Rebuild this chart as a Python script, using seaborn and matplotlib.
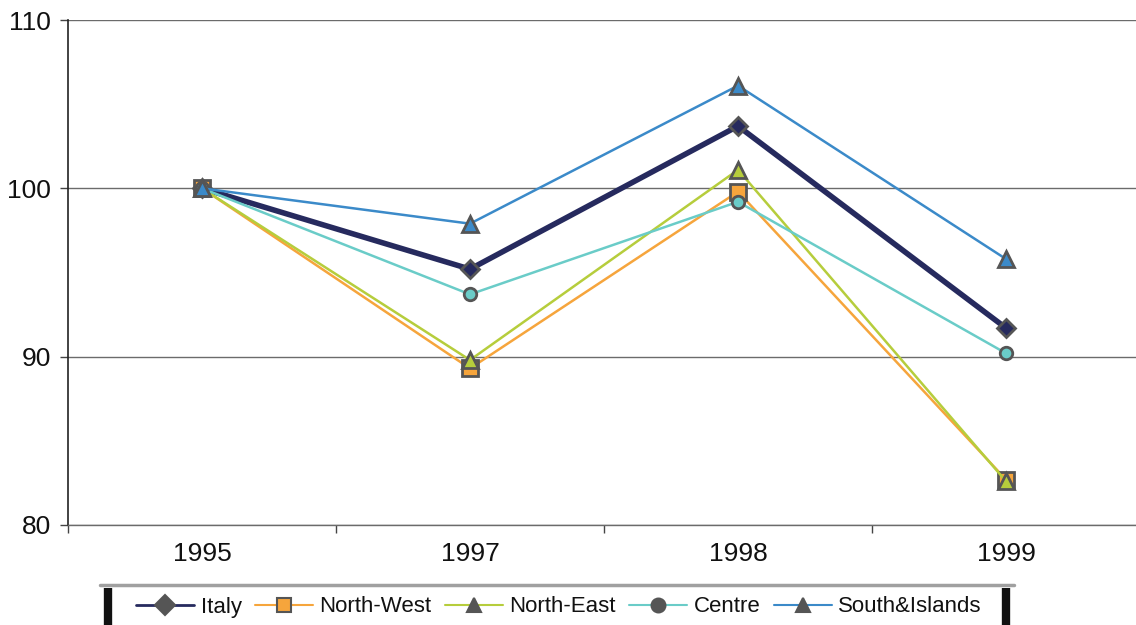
import matplotlib
matplotlib.use("Agg")
import matplotlib.pyplot as plt
from matplotlib.lines import Line2D
import seaborn as sns
import pandas as pd

years = ["1995", "1997", "1998", "1999"]
italy = [100.0, 95.2, 103.7, 91.7]
north_west = [100.0, 89.3, 99.8, 82.7]
north_east = [100.0, 89.8, 101.1, 82.6]
centre = [100.0, 93.7, 99.2, 90.2]
south_islands = [100.0, 97.9, 106.1, 95.8]

series = {
    "Italy": italy,
    "North-West": north_west,
    "North-East": north_east,
    "Centre": centre,
    "South&Islands": south_islands,
}
colors = {
    "Italy": "#262a5e",
    "North-West": "#f6a53c",
    "North-East": "#b6cd3c",
    "Centre": "#6accc8",
    "South&Islands": "#3b8ac9",
}
markers = {"Italy": "D", "North-West": "s", "North-East": "^",
           "Centre": "o", "South&Islands": "^"}
widths = {"Italy": 4.0, "North-West": 1.8, "North-East": 1.8,
          "Centre": 1.8, "South&Islands": 1.8}
msizes = {"Italy": 9, "North-West": 11, "North-East": 12,
          "Centre": 9, "South&Islands": 12}

rows = []
for name, vals in series.items():
    for i, (yr, v) in enumerate(zip(years, vals)):
        rows.append({"series": name, "pos": i, "year": yr, "value": v})
df = pd.DataFrame(rows)

sns.set_theme(style="white")
plt.rcParams["font.family"] = ["Liberation Sans", "DejaVu Sans"]

fig = plt.figure(figsize=(11.36, 6.25), dpi=100)
ax = fig.add_axes([68 / 1136, 100 / 625, 1072 / 1136, 505 / 625])

edge = "#555555"
for name in series:
    sub = df[df["series"] == name]
    sns.lineplot(data=sub, x="pos", y="value", ax=ax, color=colors[name],
                 linewidth=widths[name], marker=markers[name],
                 markersize=msizes[name], markeredgecolor=edge,
                 markeredgewidth=2, markerfacecolor=colors[name],
                 legend=False, zorder=3)

ax.set_xlim(-0.5, 3.5)
ax.set_ylim(80, 110)
ax.set_yticks([80, 90, 100, 110])
ax.set_xticks(range(len(years)))
ax.set_xticklabels(years)
ax.set_xticks([-0.5, 0.5, 1.5, 2.5], minor=True)
ax.set_xlabel("")
ax.set_ylabel("")
ax.yaxis.grid(True, color="#6b6b6b", linewidth=1.0, zorder=0)
ax.set_axisbelow(True)

for side in ["top", "right"]:
    ax.spines[side].set_visible(False)
ax.spines["left"].set_color("#222222")
ax.spines["left"].set_linewidth(1.2)
ax.spines["bottom"].set_color("#6b6b6b")
ax.spines["bottom"].set_linewidth(1.0)

ax.tick_params(axis="y", which="major", left=True, length=6, width=1,
               color="#444444", labelsize=19, pad=6, labelcolor="#111111")
ax.tick_params(axis="x", which="major", bottom=False, labelsize=19,
               pad=6, labelcolor="#111111")
ax.tick_params(axis="x", which="minor", bottom=True, length=6, width=1,
               color="#444444")

handles = [
    Line2D([0], [0], color=colors[n], linewidth=1.5 if n != "Italy" else 2,
           marker=markers[n], markersize=10, markeredgecolor=edge,
           markerfacecolor=edge if n != "North-West" else colors[n],
           markeredgewidth=1.5)
    for n in series
]
fig.legend(handles, list(series.keys()), loc="center",
           bbox_to_anchor=(559 / 1136, 18 / 625), ncol=5, frameon=False,
           prop={"size": 16}, labelcolor="#111111",
           handlelength=2.6, columnspacing=0.6, handletextpad=0.3)

# legend box decoration
fig.add_artist(Line2D([100 / 1136, 1014 / 1136], [40 / 625, 40 / 625],
                      color="#a0a0a0", linewidth=2.5,
                      transform=fig.transFigure))
for xp in (108, 1006):
    fig.add_artist(Line2D([xp / 1136, xp / 1136], [0, 37 / 625],
                          color="#111111", linewidth=6,
                          solid_capstyle="butt",
                          transform=fig.transFigure))

fig.savefig("out.png", dpi=100)
